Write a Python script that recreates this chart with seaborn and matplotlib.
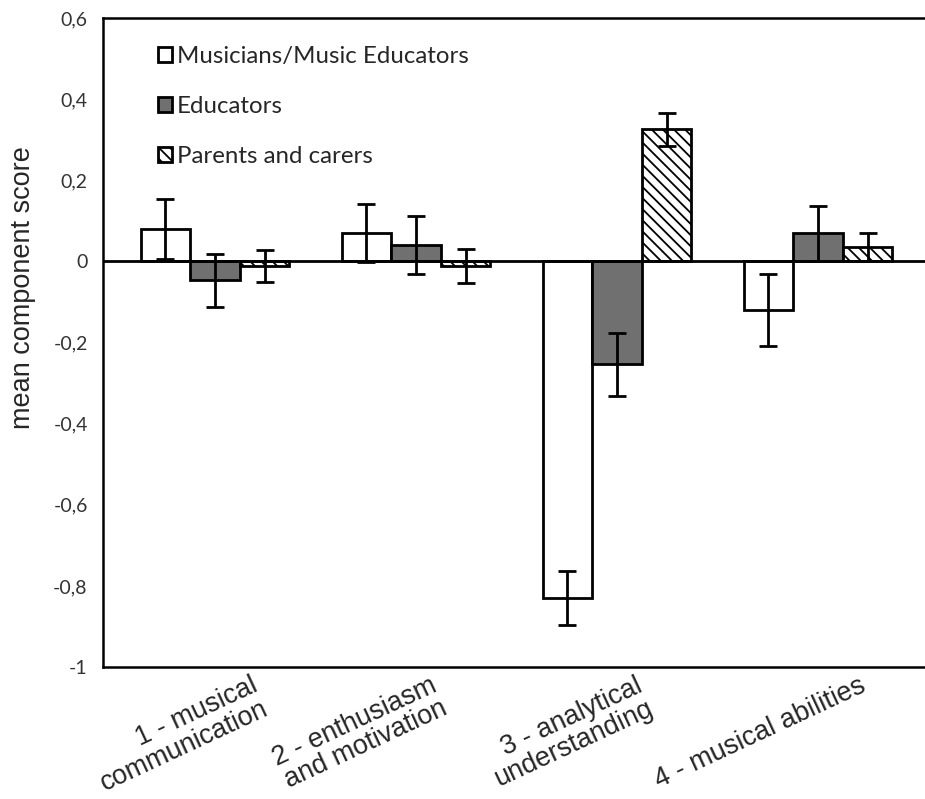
import pandas as pd
import matplotlib
matplotlib.use("Agg")
import matplotlib.pyplot as plt
import matplotlib.transforms as mtransforms
import seaborn as sns

# values
components = ["1 - musical\ncommunication", "2 - enthusiasm\nand motivation",
              "3 - analytical\nunderstanding", "4 - musical abilities"]
groups = ["Musicians/Music Educators", "Educators", "Parents and carers"]
musicians = [0.080, 0.070, -0.830, -0.120]
musicians_err = [0.075, 0.072, 0.066, 0.088]
educators = [-0.047, 0.040, -0.254, 0.069]
educators_err = [0.065, 0.072, 0.077, 0.067]
parents = [-0.012, -0.012, 0.326, 0.035]
parents_err = [0.040, 0.042, 0.041, 0.034]
yticks = [-1, -0.8, -0.6, -0.4, -0.2, 0, 0.2, 0.4, 0.6]
ytick_labels = ["-1", "-0,8", "-0,6", "-0,4", "-0,2", "0", "0,2", "0,4", "0,6"]

df = pd.DataFrame({
    "component": components * 3,
    "group": [g for g in groups for _ in components],
    "score": musicians + educators + parents,
})
errors = [musicians_err, educators_err, parents_err]

sns.set_style("white")
plt.rcParams["hatch.linewidth"] = 1.3

fig = plt.figure(figsize=(9.25, 7.99), dpi=100)
ax = fig.add_axes([103 / 925, 132 / 799, 827 / 925, 649 / 799])

sns.barplot(data=df, x="component", y="score", hue="group", hue_order=groups,
            palette=["white", "#707070", "white"], errorbar=None, width=0.74,
            edgecolor="black", linewidth=2, ax=ax)
bars = list(ax.containers)

for bar in bars[2]:
    bar.set_hatch("\\\\\\")

for cont, err in zip(bars, errors):
    xs = [b.get_x() + b.get_width() / 2 for b in cont]
    hs = [b.get_height() for b in cont]
    ax.errorbar(xs, hs, yerr=err, fmt="none", ecolor="black",
                elinewidth=2, capsize=6.5, capthick=2, zorder=5)

ax.axhline(0, color="black", lw=2, zorder=4)

ax.set_ylim(-1, 0.6)
ax.set_yticks(yticks)
ax.set_yticklabels(ytick_labels, fontfamily="Lato", fontsize=14, color="#333333")
ax.tick_params(axis="both", length=0)
ax.tick_params(axis="y", pad=11)
ax.tick_params(axis="x", pad=4)
ax.set_xticks(range(len(components)))
ax.set_xticklabels(components, rotation=25, ha="center", multialignment="right",
                   fontfamily="Liberation Sans", fontsize=19.5, linespacing=0.98)
# excel-style label shifts (pixels)
shifts = [-36, -56, -49, -58]
for lab, dx in zip(ax.get_xticklabels(), shifts):
    lab.set_transform(lab.get_transform() +
                      mtransforms.ScaledTranslation(dx / 100, 0, fig.dpi_scale_trans))
ax.set_xlabel("")
ax.set_ylabel("mean component score", fontfamily="Liberation Sans", fontsize=19.5)
ax.yaxis.set_label_coords(-0.081, 0.584)

for side in ["left", "bottom", "top"]:
    ax.spines[side].set_color("black")
    ax.spines[side].set_linewidth(1.8)
ax.spines["right"].set_visible(False)

handles = [cont.patches[0] for cont in bars]
leg = ax.legend(handles, groups, loc="upper left", bbox_to_anchor=(0.04, 0.99),
                frameon=False, prop={"family": "Lato", "size": 17.3},
                handlelength=0.6, handleheight=0.6, handletextpad=0.2,
                labelspacing=1.2)

fig.savefig("out.png", dpi=100)
